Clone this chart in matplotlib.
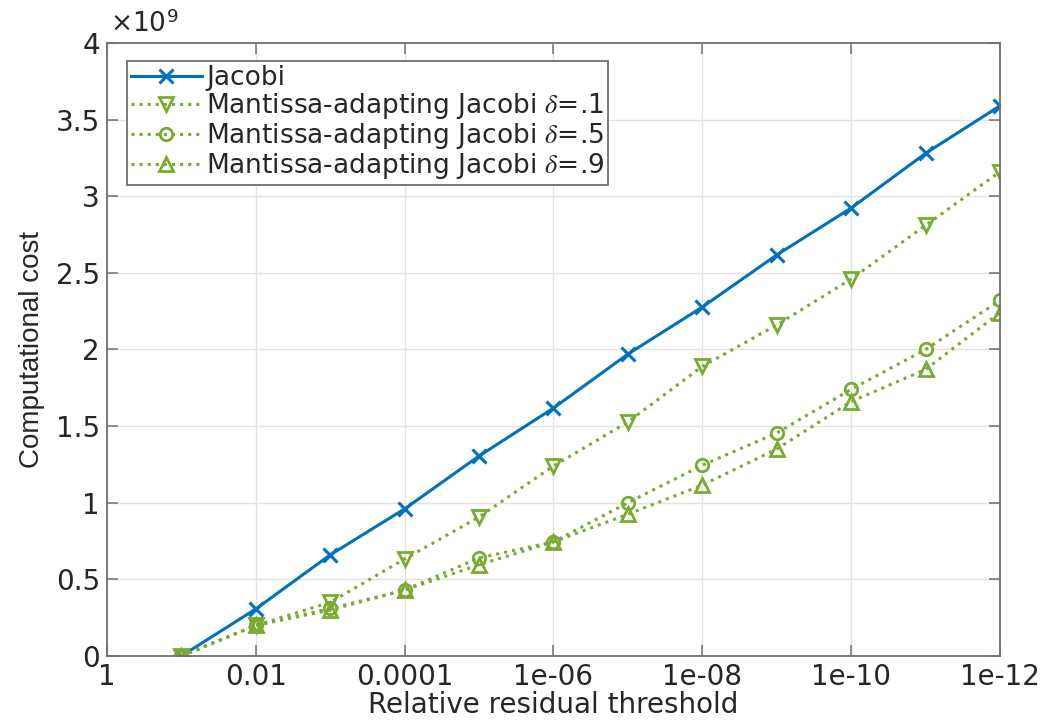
import matplotlib
matplotlib.use("Agg")
import matplotlib.pyplot as plt
from matplotlib.ticker import FixedLocator, FixedFormatter, NullLocator

plt.rcParams['font.family'] = ['DejaVu Sans']
plt.rcParams['mathtext.fontset'] = 'custom'
plt.rcParams['mathtext.rm'] = 'DejaVu Sans'
plt.rcParams['mathtext.it'] = 'STIXGeneral:italic'

# Data (computational cost in units of 1e9)
thresholds = [1e-1, 1e-2, 1e-3, 1e-4, 1e-5, 1e-6, 1e-7, 1e-8, 1e-9, 1e-10, 1e-11, 1e-12]
jacobi = [0.0, 0.307, 0.66, 0.96, 1.305, 1.618, 1.97, 2.277, 2.617, 2.923, 3.28, 3.59]
mant_d1 = [0.0, 0.2, 0.35, 0.633, 0.907, 1.24, 1.527, 1.89, 2.16, 2.46, 2.81, 3.16]
mant_d5 = [0.0, 0.2, 0.31, 0.43, 0.64, 0.745, 1.0, 1.245, 1.455, 1.74, 2.0, 2.32]
mant_d9 = [0.0, 0.2, 0.30, 0.43, 0.595, 0.745, 0.925, 1.115, 1.35, 1.66, 1.87, 2.24]
exponent_label = r'$\times10^{9}$'

x_ticks = [1, 1e-2, 1e-4, 1e-6, 1e-8, 1e-10, 1e-12]
x_tick_labels = ['1', '0.01', '0.0001', '1e-06', '1e-08', '1e-10', '1e-12']
y_ticks = [0, 0.5, 1, 1.5, 2, 2.5, 3, 3.5, 4]
y_tick_labels = ['0', '0.5', '1', '1.5', '2', '2.5', '3', '3.5', '4']

labels = ['Jacobi',
          r'Mantissa-adapting Jacobi $\delta$=.1',
          r'Mantissa-adapting Jacobi $\delta$=.5',
          r'Mantissa-adapting Jacobi $\delta$=.9']

blue = '#0072BD'
green = '#77AC30'
txt = '#262626'
axc = '#707070'

fig = plt.figure(figsize=(10.4, 7.23), dpi=100)
ax = fig.add_axes([0.1029, 0.0927, 0.8586, 0.8478])

ax.plot(thresholds, jacobi, color=blue, lw=2.2, marker='x',
        ms=10, mew=2.2, label=labels[0])
ax.plot(thresholds, mant_d1, color=green, lw=2.2, ls=':', marker='v',
        ms=10, mew=2.0, mfc='none', label=labels[1])
ax.plot(thresholds, mant_d5, color=green, lw=2.2, ls=':', marker='o',
        ms=9, mew=2.0, mfc='none', label=labels[2])
ax.plot(thresholds, mant_d9, color=green, lw=2.2, ls=':', marker='^',
        ms=10, mew=2.0, mfc='none', label=labels[3])

ax.set_xscale('log')
ax.set_xlim(1, 1e-12)
ax.set_ylim(0, 4)
ax.xaxis.set_major_locator(FixedLocator(x_ticks))
ax.xaxis.set_major_formatter(FixedFormatter(x_tick_labels))
ax.xaxis.set_minor_locator(NullLocator())
ax.set_yticks(y_ticks)
ax.set_yticklabels(y_tick_labels)

ax.grid(True, color='#e3e3e3', lw=1.0)
ax.set_axisbelow(True)
for s in ax.spines.values():
    s.set_color(axc)
    s.set_linewidth(1.3)
ax.tick_params(axis='both', which='both', direction='in', length=8, width=1.1,
               color=axc, labelsize=20, labelcolor=txt,
               top=True, right=True, pad=5)

ax.text(0.003, 1.018, exponent_label, transform=ax.transAxes, fontsize=19,
        color=txt, ha='left', va='baseline')

ax.set_xlabel('Relative residual threshold', fontsize=20, color=txt, labelpad=0)
ax.set_ylabel('Computational cost', fontsize=20, color=txt, labelpad=8,
              family='Liberation Sans')

leg = ax.legend(loc='upper left', bbox_to_anchor=(0.022, 0.97), fontsize=19,
                frameon=True, fancybox=False, framealpha=1, edgecolor=axc,
                handlelength=2.7, handletextpad=0.15, labelspacing=0.0,
                borderpad=0.15, borderaxespad=0.0)
leg.get_frame().set_linewidth(1.3)
for t in leg.get_texts():
    t.set_color(txt)

fig.savefig('out.png', dpi=100)
